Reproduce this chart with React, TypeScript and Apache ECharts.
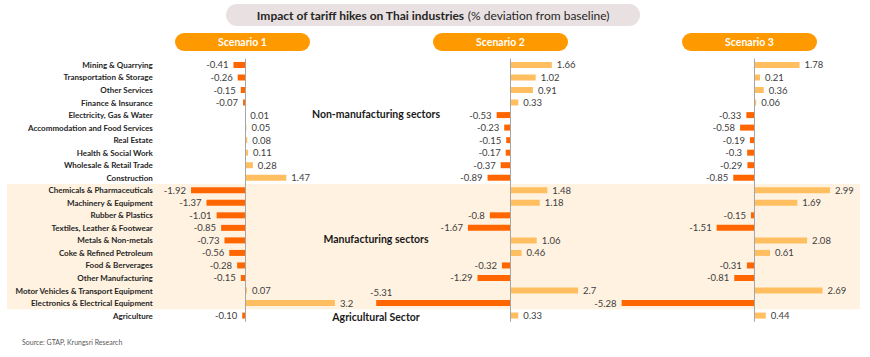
import React, { useEffect, useRef } from "react";
import * as echarts from "echarts";

const categories = [
  "Mining & Quarrying",
  "Transportation & Storage",
  "Other Services",
  "Finance & Insurance",
  "Electricity, Gas & Water",
  "Accommodation and Food Services",
  "Real Estate",
  "Health & Social Work",
  "Wholesale & Retail Trade",
  "Construction",
  "Chemicals & Pharmaceuticals",
  "Machinery & Equipment",
  "Rubber & Plastics",
  "Textiles, Leather & Footwear",
  "Metals & Non-metals",
  "Coke & Refined Petroleum",
  "Food & Berverages",
  "Other Manufacturing",
  "Motor Vehicles & Transport Equipment",
  "Electronics & Electrical Equipment",
  "Agriculture",
];

const scenario1 = ["-0.41", "-0.26", "-0.15", "-0.07", "0.01", "0.05", "0.08", "0.11", "0.28", "1.47", "-1.92", "-1.37", "-1.01", "-0.85", "-0.73", "-0.56", "-0.28", "-0.15", "0.07", "3.2", "-0.10"];
const scenario2 = ["1.66", "1.02", "0.91", "0.33", "-0.53", "-0.23", "-0.15", "-0.17", "-0.37", "-0.89", "1.48", "1.18", "-0.8", "-1.67", "1.06", "0.46", "-0.32", "-1.29", "2.7", "-5.31", "0.33"];
const scenario3 = ["1.78", "0.21", "0.36", "0.06", "-0.33", "-0.58", "-0.19", "-0.3", "-0.29", "-0.85", "2.99", "1.69", "-0.15", "-1.51", "2.08", "0.61", "-0.31", "-0.81", "2.69", "-5.28", "0.44"];

const scenarioNames = ["Scenario 1", "Scenario 2", "Scenario 3"];
const sectionNames = ["Non-manufacturing sectors", "Manufacturing sectors", "Agricultural Sector"];

const NEG = "#FF6600";
const POS = "#FFBF60";
const FONT = "Lato, 'Open Sans', sans-serif";

export default function App() {
  const ref = useRef<HTMLDivElement>(null);

  useEffect(() => {
    document.body.style.margin = "0";
    const chart = echarts.init(ref.current!, null, { renderer: "svg" });

    const top = 58.7;
    const rowH = 12.53;
    const gridH = rowH * categories.length;

    const grids = [
      { left: 188.8, width: 168.6, top, height: gridH },
      { left: 358.8, width: 252, top, height: gridH },
      { left: 603.5, width: 252, top, height: gridH },
    ];
    const ranges = [
      [-2, 4],
      [-6, 4],
      [-6, 4],
    ];
    const all = [scenario1, scenario2, scenario3];

    const series = all.map((vals, gi) => ({
      type: "bar",
      xAxisIndex: gi,
      yAxisIndex: gi,
      barWidth: 6,
      z: 3,
      data: vals.map((s, i) => {
        const v = Number(s);
        const shifted = gi === 1 && categories[i] === "Electronics & Electrical Equipment";
        return {
          value: v,
          itemStyle: { color: v < 0 ? NEG : POS },
          label: shifted
            ? { position: "left", offset: [21, -11] }
            : { position: v < 0 ? "left" : "right" },
        };
      }),
      label: {
        show: true,
        distance: 5,
        fontSize: 9.5,
        fontFamily: FONT,
        color: "#404040",
        formatter: (p: any) => vals[p.dataIndex],
      },
      markLine: {
        silent: true,
        symbol: "none",
        label: { show: false },
        lineStyle: { color: "#A6A6A6", width: 1, type: "solid" },
        data: [{ xAxis: 0 }],
      },
    }));

    const textStyleCommon = { fontFamily: FONT };

    const graphic: any[] = [
      {
        type: "rect",
        z: -10,
        shape: { x: 7, y: 184, width: 853, height: 125.3 },
        style: { fill: "#FFF2E0" },
      },
      {
        type: "rect",
        shape: { x: 226, y: 4, width: 414, height: 22, r: 11 },
        style: { fill: "#E9E1E1" },
      },
      {
        type: "text",
        x: 433,
        y: 15,
        style: {
          text: "{b|Impact of tariff hikes on Thai industries} {n|(% deviation from baseline)}",
          align: "center",
          verticalAlign: "middle",
          rich: {
            b: { fontSize: 12, fontWeight: "bold", fontFamily: FONT, fill: "#262626" },
            n: { fontSize: 12, fontFamily: FONT, fill: "#262626" },
          },
        },
      },
      {
        type: "text",
        x: 22,
        y: 342,
        style: {
          text: "Source: GTAP, Krungsri Research",
          fontSize: 7,
          fill: "#595959",
          verticalAlign: "middle",
          ...textStyleCommon,
        },
      },
    ];

    const pillX = [175, 433, 682];
    scenarioNames.forEach((name, i) => {
      graphic.push({
        type: "rect",
        shape: { x: pillX[i], y: 33, width: 135, height: 18, r: 9 },
        style: { fill: "#FF9900" },
      });
      graphic.push({
        type: "text",
        x: pillX[i] + 67.5,
        y: 42,
        style: {
          text: name,
          fontSize: 10.5,
          fontWeight: "bold",
          fill: "#FFFFFF",
          align: "center",
          verticalAlign: "middle",
          ...textStyleCommon,
        },
      });
    });

    const sectionY = [113.5, 238.5, 317];
    sectionNames.forEach((name, i) => {
      graphic.push({
        type: "text",
        x: 376,
        y: sectionY[i],
        style: {
          text: name,
          fontSize: 10.5,
          fontWeight: "bold",
          fill: "#1A1A1A",
          align: "center",
          verticalAlign: "middle",
          ...textStyleCommon,
        },
      });
    });

    chart.setOption({
      animation: false,
      backgroundColor: "#FFFFFF",
      grid: grids,
      xAxis: grids.map((_, gi) => ({
        type: "value",
        gridIndex: gi,
        min: ranges[gi][0],
        max: ranges[gi][1],
        show: false,
      })),
      yAxis: grids.map((_, gi) => ({
        type: "category",
        gridIndex: gi,
        data: categories,
        inverse: true,
        show: gi === 0,
        axisLine: { show: false, onZero: false },
        axisTick: { show: false },
        splitLine: { show: false },
        axisLabel: {
          show: gi === 0,
          margin: 36,
          fontSize: 8,
          fontWeight: "bold",
          color: "#262626",
          fontFamily: FONT,
        },
      })),
      series,
      graphic,
    });

    return () => chart.dispose();
  }, []);

  return <div ref={ref} style={{ width: 870, height: 357 }} />;
}
